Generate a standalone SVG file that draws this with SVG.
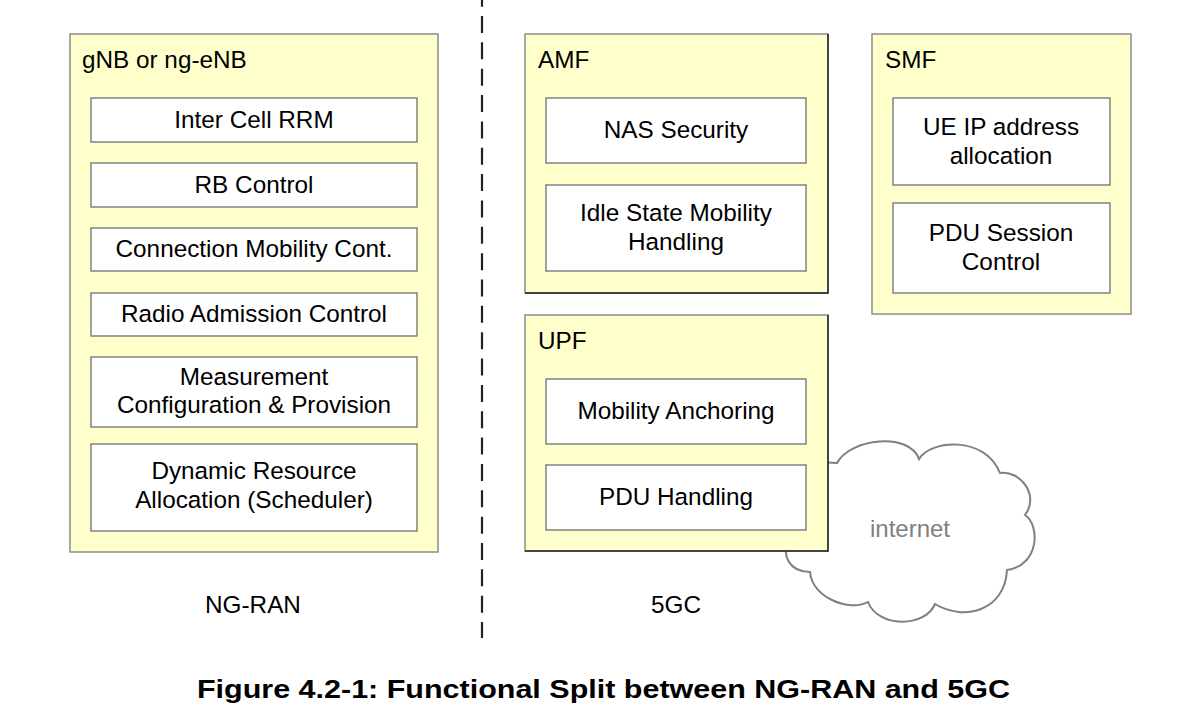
<svg xmlns="http://www.w3.org/2000/svg" width="1195" height="715" viewBox="0 0 1195 715">
<style>
text{font-family:"Liberation Sans",Arial,sans-serif;font-size:24.3px;fill:#000}
.c{text-anchor:middle}
.outer{fill:#FFFFCC;stroke:#8c8c8c;stroke-width:1.5}
.inner{fill:#fff;stroke:#707070;stroke-width:1.3}
.dark{fill:none;stroke:#222;stroke-width:1.5}
</style>
<rect width="1195" height="715" fill="#fff"/>
<g id="divider">
<line x1="482" y1="-10.35" x2="482" y2="638" stroke="#222" stroke-width="2.2" stroke-dasharray="17 9.35"/>
</g>
<g id="cloud">
<path d="M837,463 C850,438 910,432 919,459 C930,440 985,435 1000,473 C1020,470 1040,495 1025,515 C1040,525 1040,565 1007,570 C1005,610 965,622 935,604 C925,628 878,628 868,602 C850,612 812,598 810,572 C790,572 780,555 790,540 L800,470 C810,462 825,462 837,463 Z" fill="#fff" stroke="#808080" stroke-width="2"/>
<text x="910" y="537" class="c" style="fill:#808080;font-size:24px">internet</text>
</g>
<g id="gnb">
<rect class="outer" x="70" y="34" width="368" height="518"/>
<text x="82" y="68">gNB or ng-eNB</text>
<g id="inter-cell-rrm"><rect class="inner" x="91" y="98" width="326" height="44"/><text x="254" y="128" class="c">Inter Cell RRM</text></g>
<g id="rb-control"><rect class="inner" x="91" y="163" width="326" height="44"/><text x="254" y="193" class="c">RB Control</text></g>
<g id="conn-mobility"><rect class="inner" x="91" y="228" width="326" height="43"/><text x="254" y="257" class="c">Connection Mobility Cont.</text></g>
<g id="radio-admission"><rect class="inner" x="91" y="293" width="326" height="43"/><text x="254" y="322" class="c">Radio Admission Control</text></g>
<g id="measurement"><rect class="inner" x="91" y="357" width="326" height="70"/><text x="254" y="385" class="c">Measurement</text><text x="254" y="413" class="c">Configuration &amp; Provision</text></g>
<g id="dra"><rect class="inner" x="91" y="444" width="326" height="87"/><text x="254" y="479" class="c">Dynamic Resource</text><text x="254" y="508" class="c">Allocation (Scheduler)</text></g>
</g>
<g id="amf">
<rect class="outer" x="525" y="34" width="303" height="259"/>
<polyline class="dark" points="828,34 828,293 525,293"/>
<text x="538" y="68">AMF</text>
<g id="nas-security"><rect class="inner" x="546" y="98" width="260" height="65"/><text x="676" y="138" class="c">NAS Security</text></g>
<g id="idle-mobility"><rect class="inner" x="546" y="185" width="260" height="86"/><text x="676" y="221" class="c">Idle State Mobility</text><text x="676" y="250" class="c">Handling</text></g>
</g>
<g id="upf">
<rect class="outer" x="525" y="315" width="303" height="236"/>
<polyline class="dark" points="828,315 828,551 525,551"/>
<text x="538" y="349">UPF</text>
<g id="mobility-anchoring"><rect class="inner" x="546" y="379" width="260" height="65"/><text x="676" y="419" class="c">Mobility Anchoring</text></g>
<g id="pdu-handling"><rect class="inner" x="546" y="465" width="260" height="65"/><text x="676" y="505" class="c">PDU Handling</text></g>
</g>
<g id="smf">
<rect class="outer" x="872" y="34" width="259" height="280"/>
<text x="885" y="68">SMF</text>
<g id="ue-ip"><rect class="inner" x="893" y="98" width="217" height="87"/><text x="1001" y="135" class="c">UE IP address</text><text x="1001" y="164" class="c">allocation</text></g>
<g id="pdu-session"><rect class="inner" x="893" y="203" width="217" height="90"/><text x="1001" y="241" class="c">PDU Session</text><text x="1001" y="270" class="c">Control</text></g>
</g>
<g id="labels">
<text x="253" y="613" class="c">NG-RAN</text>
<text x="676" y="613" class="c">5GC</text>
<text x="197" y="698" textLength="813" lengthAdjust="spacingAndGlyphs" style="font-weight:bold;font-size:26.5px">Figure 4.2-1: Functional Split between NG-RAN and 5GC</text>
</g>
</svg>
